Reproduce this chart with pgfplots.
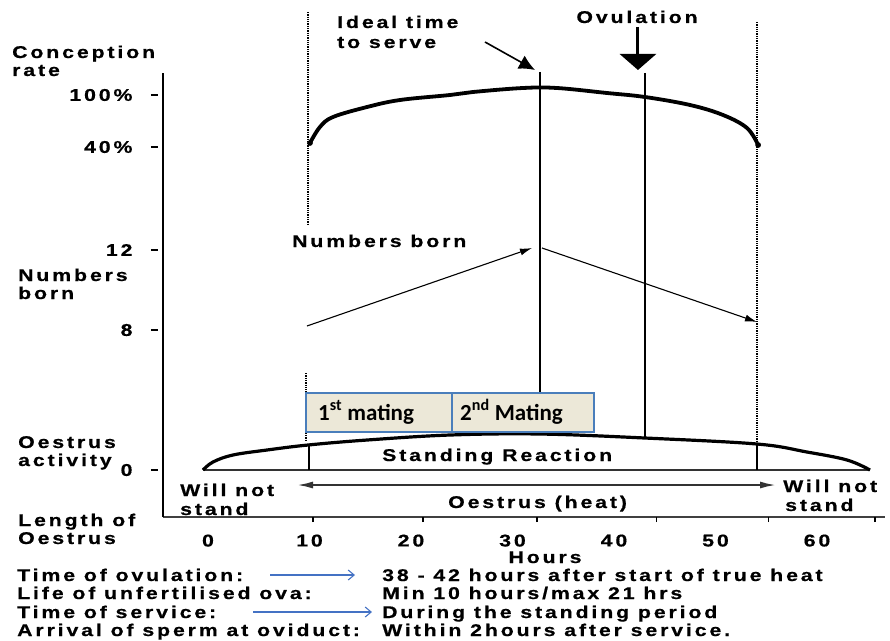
\documentclass[border=0pt]{standalone}
\usepackage{fontspec}
\setmainfont{Liberation Sans}
\newfontfamily\lab{Liberation Sans Bold}[FakeStretch=1.25, LetterSpace=17, FakeBold=0.6]
\newfontfamily\calfont{Carlito Bold}
\usepackage{pgfplots}
\pgfplotsset{compat=1.18}
\usetikzlibrary{arrows.meta}
\definecolor{boxfill}{RGB}{236,232,216}
\definecolor{boxblue}{RGB}{74,126,187}
\definecolor{arrblue}{RGB}{68,114,196}
\tikzset{lbl/.style={font=\lab\fontsize{17}{18}\selectfont, inner sep=0pt, anchor=base west}}
\begin{document}
\begin{tikzpicture}
\begin{axis}[
  scale only axis, width=722pt, height=444pt,
  xmin=-4.4335, xmax=66.6995, ymin=123, ymax=567,
  axis x line=bottom, axis y line=left,
  x axis line style={-, line width=1.6pt, color=black!75},
  y axis line style={-, line width=2.6pt},
  xtick={0,10,20,30,40,50,60},
  x tick style={draw=none},
  extra x ticks={10.34,21.18,32.4,44.2,55.2,65.7}, extra x tick labels={},
  extra x tick style={x tick style={draw=black, line width=1.5pt}, major tick length=5pt},
  ytick={170,310,390,493,545}, yticklabels={0,8,12,40\%,100\%},
  tick align=outside, major tick length=7pt,
  y tick style={line width=1.8pt, black, xshift=-5pt},
  /pgf/number format/assume math mode=true,
  tick label style={font=\lab\fontsize{17}{18}\selectfont},
  xticklabel style={yshift=-7pt},
  yticklabel style={xshift=-20pt},
  clip=false,
]
\coordinate (O) at (axis cs:-20.49,0);
\coordinate (TR) at (axis cs:67.19,640);
% dotted guide lines
\addplot[densely dotted, line width=1.3pt] coordinates {(9.85,628) (9.85,415)};
\addplot[densely dotted, line width=1.3pt] coordinates {(9.66,267) (9.66,200)};
\addplot[densely dotted, line width=1.3pt] coordinates {(54.09,618) (54.09,196)};
% oestrus baseline
\addplot[line width=1.8pt, black!80] coordinates {(-0.49,170) (65.22,170)};
% oestrus activity curve
\addplot[line width=3.2pt, smooth, tension=0.6] coordinates {
(-0.49,170) (0.49,178) (2.46,185) (5.81,190) (9.85,195) (15.67,200) (23.84,205)
(32.71,206) (43.05,202) (54.09,196) (59.01,188) (62.96,180) (65.22,170)};
% conception rate curve
\addplot[line width=3.8pt, smooth, tension=0.6] coordinates {
(10.05,497) (11.03,513) (12.32,523) (15.67,533) (18.92,540) (23.84,545) (26.11,548)
(31.03,552) (34.38,552) (39.31,547) (43.05,543) (47.49,535) (50.74,525) (53.10,512) (54.2,495)};
\addplot[only marks, mark=*, mark size=2.6pt] coordinates {(10.05,497) (54.2,495)};
% vertical lines
\addplot[line width=2pt] coordinates {(32.71,568) (32.71,205)};
\addplot[line width=2.4pt] coordinates {(43.05,567) (43.05,202)};
\addplot[line width=2.2pt] coordinates {(9.95,170) (9.95,195)};
\addplot[line width=2.2pt] coordinates {(54.09,170) (54.09,196)};
% numbers born arrows
\addplot[line width=1.1pt, -{Latex[length=12pt,width=7pt]}] coordinates {(9.75,314) (31.92,392)};
\addplot[line width=1.1pt, -{Latex[length=12pt,width=7pt]}] coordinates {(32.91,392) (54.09,318)};
% oestrus (heat) arrow
\addplot[line width=2pt, black!80, {Latex[length=16pt,width=7pt]}-{Latex[length=16pt,width=7pt]}] coordinates {(8.77,155) (55.96,155)};
% ovulation arrow
\addplot[line width=3pt, -{Triangle[length=16pt,width=36pt]}] coordinates {(42.36,613) (42.36,570)};
% ideal time arrow
\addplot[line width=1.6pt, -{Latex[length=16pt,width=15pt]}] coordinates {(27.29,598) (32.22,570)};
% mating boxes
\addplot[fill=boxfill, draw=boxblue, line width=1.3pt] coordinates {(9.66,208) (24.04,208) (24.04,247) (9.66,247)} -- cycle;
\addplot[fill=boxfill, draw=boxblue, line width=1.3pt] coordinates {(24.04,208) (38.03,208) (38.03,247) (24.04,247)} -- cycle;
\end{axis}
\begin{scope}[shift={(O)}, x=1pt, y=1pt]
% axis titles
\node[lbl] at (12,582) {Conception};
\node[lbl] at (12,564) {rate};
\node[lbl] at (18,359) {Numbers};
\node[lbl] at (18,341) {born};
\node[lbl] at (18,192) {Oestrus};
\node[lbl] at (18,174) {activity};
\node[lbl] at (18,114) {Length of};
\node[lbl] at (18,96) {Oestrus};
\node[lbl, anchor=base] at (545,77) {Hours};
% annotations
\node[lbl] at (337,612) {Ideal time};
\node[lbl] at (337,592) {to serve};
\node[lbl, anchor=base] at (637,617) {Ovulation};
\node[lbl] at (292,393) {Numbers born};
\node[lbl] at (382,179) {Standing Reaction};
\node[lbl] at (448,132) {Oestrus (heat)};
\node[lbl] at (180,144) {Will not};
\node[lbl] at (180,125) {stand};
\node[lbl] at (783,148) {Will not};
\node[lbl] at (785,129) {stand};
\node[font=\calfont\fontsize{23}{24}\selectfont, inner sep=0pt, anchor=base west] at (318,220) {1\textsuperscript{st} mating};
\node[font=\calfont\fontsize{23}{24}\selectfont, inner sep=0pt, anchor=base west] at (460,220) {2\textsuperscript{nd} Mating};
% bottom notes
\node[lbl] at (17,59) {Time of ovulation:};
\node[lbl] at (17,41) {Life of unfertilised ova:};
\node[lbl] at (17,22) {Time of service:};
\node[lbl] at (17,4) {Arrival of sperm at oviduct:};
\node[lbl] at (382,59) {38 - 42 hours after start of true heat};
\node[lbl] at (382,41) {Min 10 hours/max 21 hrs};
\node[lbl] at (382,22) {During the standing period};
\node[lbl] at (382,4) {Within 2hours after service.};
\draw[arrblue, line width=1.1pt, -{Straight Barb[length=6pt,width=10pt]}] (270,65) -- (355,65);
\draw[arrblue, line width=1.1pt, -{Straight Barb[length=6pt,width=10pt]}] (253,28) -- (372,28);
\end{scope}
\pgfresetboundingbox
\path[use as bounding box] (O) rectangle (TR);
\end{tikzpicture}
\end{document}
